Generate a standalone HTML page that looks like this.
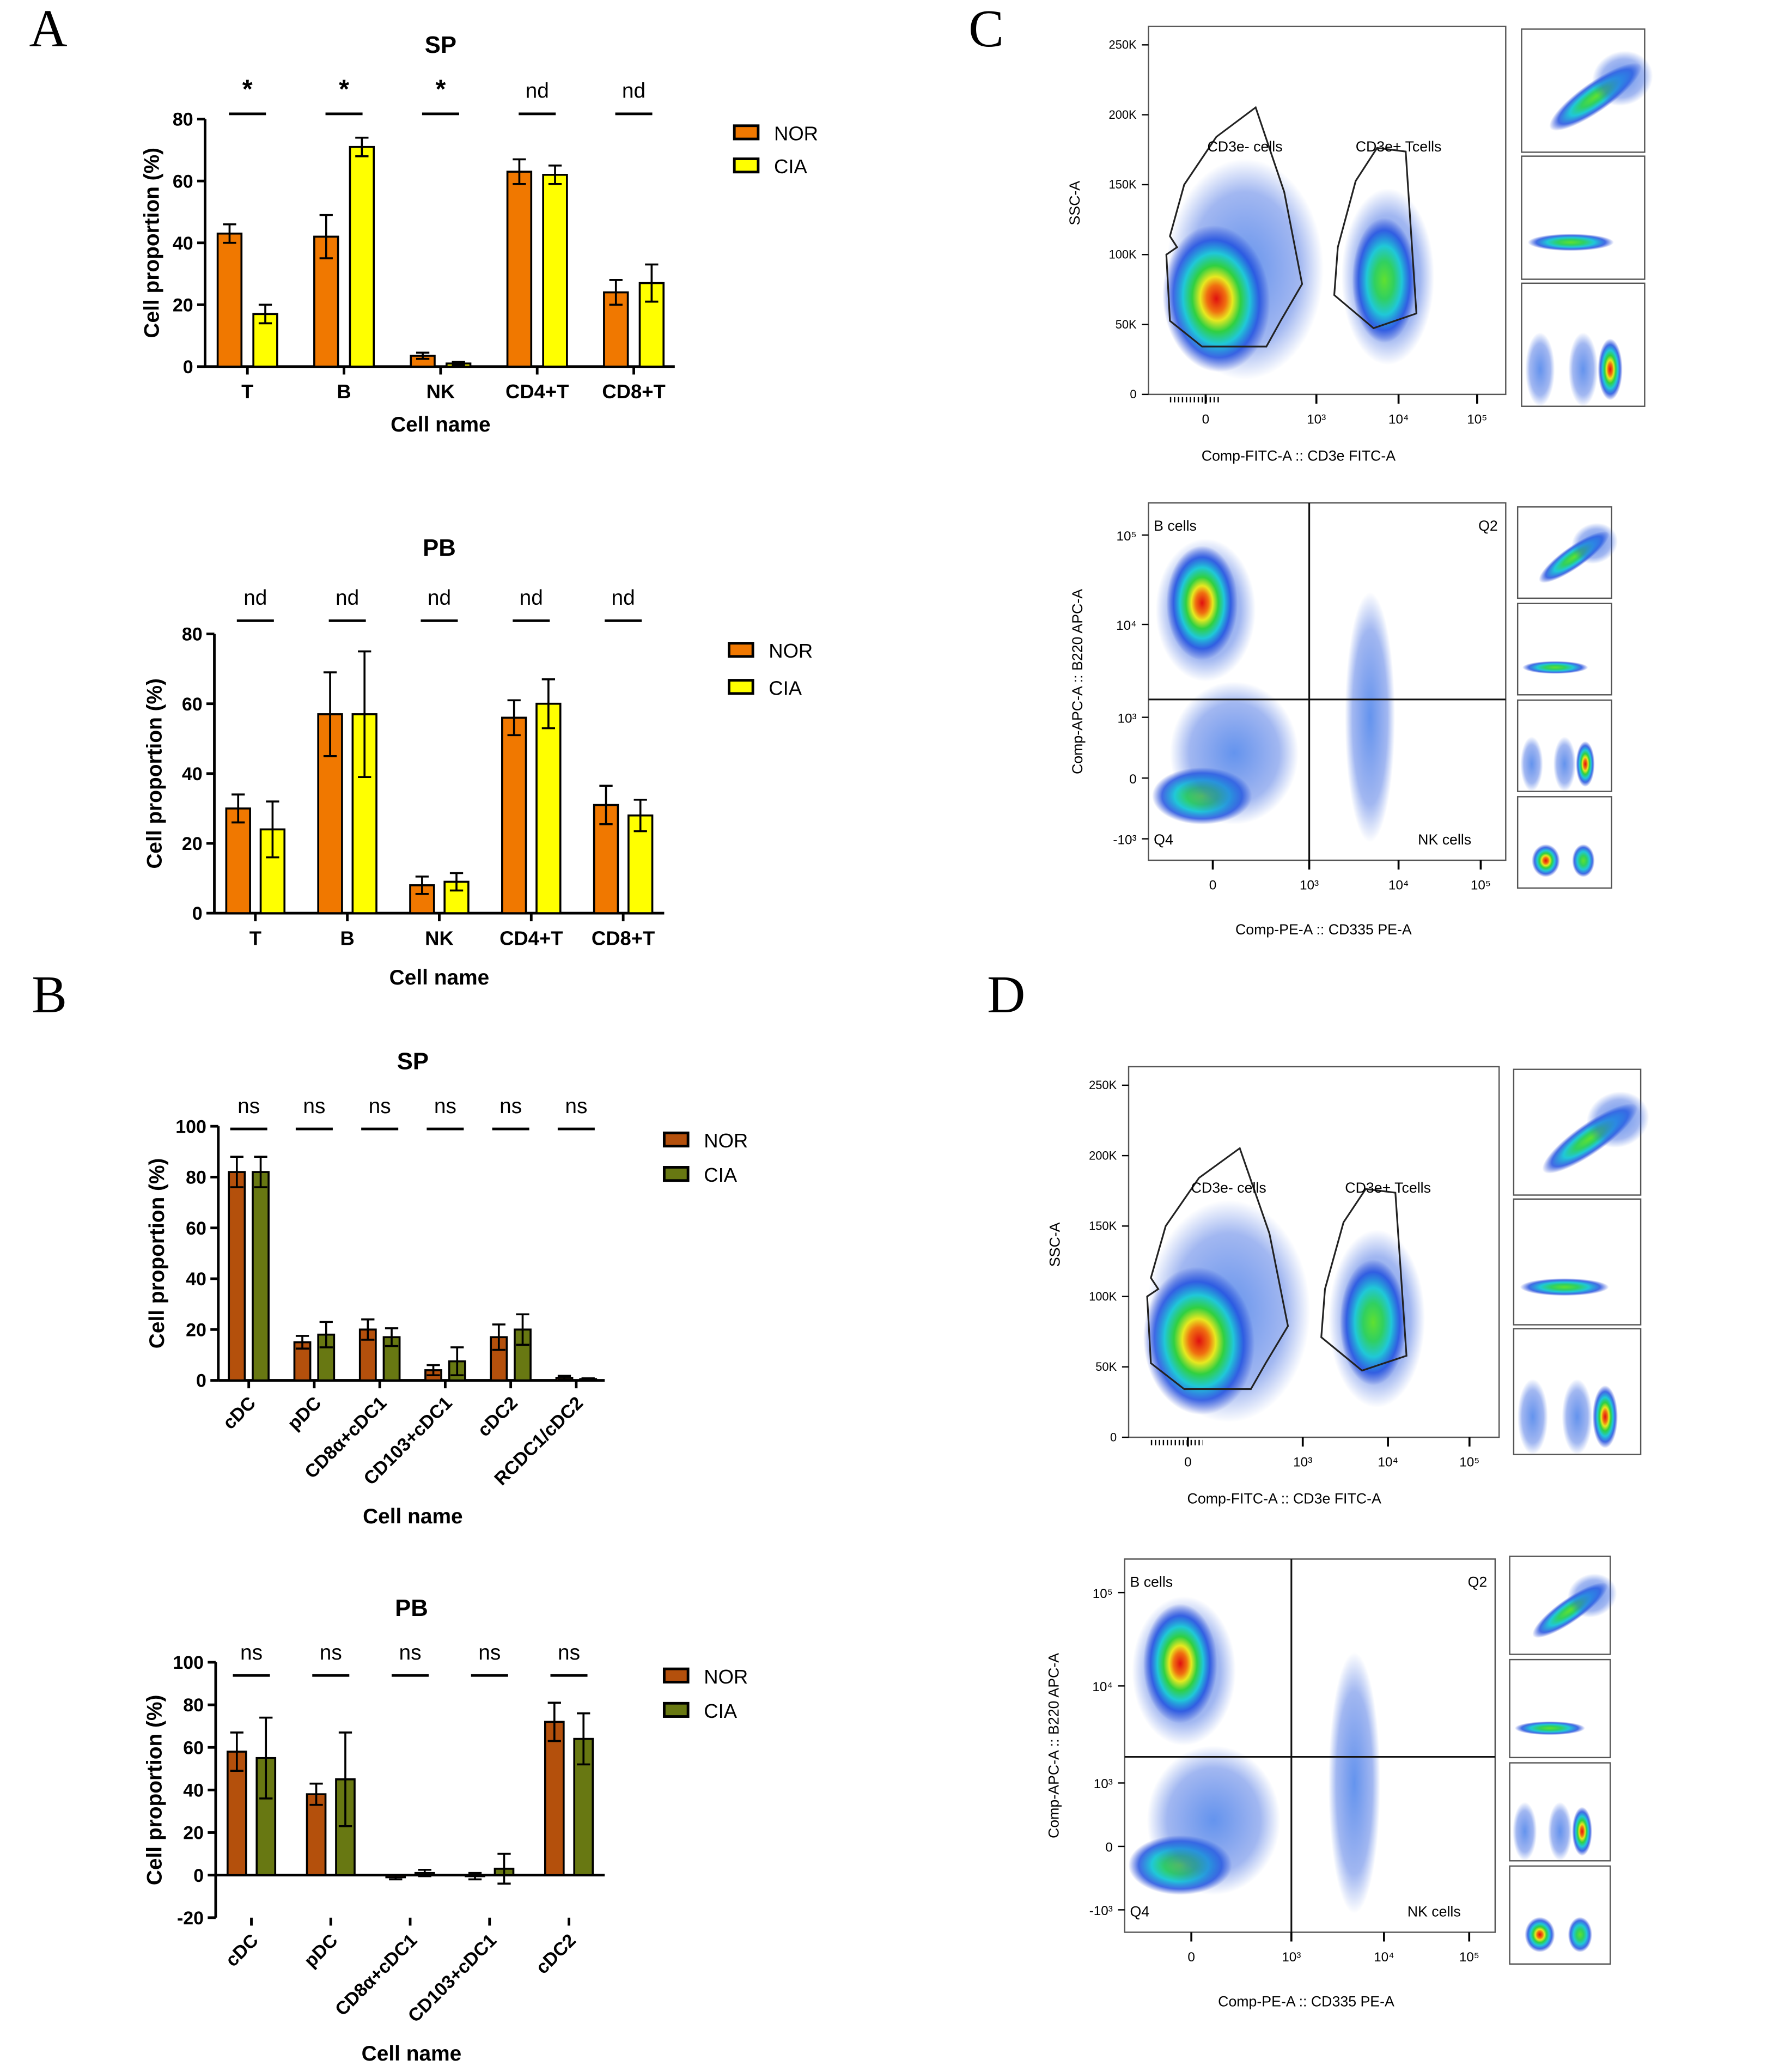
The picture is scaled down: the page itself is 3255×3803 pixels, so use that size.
<!DOCTYPE html>
<html><head><meta charset="utf-8"><style>html,body{margin:0;padding:0;background:#fff}svg{display:block}</style></head>
<body>
<svg id="fig" xmlns="http://www.w3.org/2000/svg" width="3255" height="3803" viewBox="0 0 1340 1565.6" preserveAspectRatio="none" font-family="Liberation Sans, Arial, sans-serif">
<defs>
<radialGradient id="heat"><stop offset="0" stop-color="#e01010"/><stop offset="0.18" stop-color="#f07010"/><stop offset="0.3" stop-color="#e8e820"/><stop offset="0.45" stop-color="#30d040"/><stop offset="0.62" stop-color="#20c8d8"/><stop offset="0.8" stop-color="#2050e0" stop-opacity="0.85"/><stop offset="1" stop-color="#2040d0" stop-opacity="0"/></radialGradient>
<radialGradient id="warm"><stop offset="0" stop-color="#60e030"/><stop offset="0.3" stop-color="#30d060"/><stop offset="0.55" stop-color="#20c8d8"/><stop offset="0.8" stop-color="#2050e0" stop-opacity="0.85"/><stop offset="1" stop-color="#2040d0" stop-opacity="0"/></radialGradient>
<radialGradient id="cool"><stop offset="0" stop-color="#3070e8" stop-opacity="0.75"/><stop offset="0.7" stop-color="#3060e0" stop-opacity="0.45"/><stop offset="1" stop-color="#3060e0" stop-opacity="0"/></radialGradient>
</defs>
<text x="22" y="35" font-family="Liberation Serif, serif" font-size="40">A</text>
<text x="24" y="765" font-family="Liberation Serif, serif" font-size="40">B</text>
<text x="732" y="35" font-family="Liberation Serif, serif" font-size="40">C</text>
<text x="746" y="765" font-family="Liberation Serif, serif" font-size="40">D</text>
<g id="charts"></g>
<g id="flows"></g>
</svg>
<script>
// A SP
const aSpCats = ["T","B","NK","CD4+T","CD8+T"];
const aSpNor = [43,42,3.5,63,24];
const aSpNorErr = [3,7,1,4,4];
const aSpCia = [17,71,1,62,27];
const aSpCiaErr = [3,3,0.5,3,6];
const aSpSig = ["*","*","*","nd","nd"];
const aSpTicks = [0,20,40,60,80];
// A PB
const aPbCats = ["T","B","NK","CD4+T","CD8+T"];
const aPbNor = [30,57,8,56,31];
const aPbNorErr = [4,12,2.5,5,5.5];
const aPbCia = [24,57,9,60,28];
const aPbCiaErr = [8,18,2.5,7,4.5];
const aPbSig = ["nd","nd","nd","nd","nd"];
const aPbTicks = [0,20,40,60,80];
// B SP
const bSpCats = ["cDC","pDC","CD8α+cDC1","CD103+cDC1","cDC2","RCDC1/cDC2"];
const bSpNor = [82,15,20,4,17,1];
const bSpNorErr = [6,2.5,4,2,5,0.8];
const bSpCia = [82,18,17,7.5,20,0.5];
const bSpCiaErr = [6,5,3.5,5.5,6,0.3];
const bSpSig = ["ns","ns","ns","ns","ns","ns"];
const bSpTicks = [0,20,40,60,80,100];
// B PB
const bPbCats = ["cDC","pDC","CD8α+cDC1","CD103+cDC1","cDC2"];
const bPbNor = [58,38,-1,-0.5,72];
const bPbNorErr = [9,5,1,1.5,9];
const bPbCia = [55,45,1,3,64];
const bPbCiaErr = [19,22,1.5,7,12];
const bPbSig = ["ns","ns","ns","ns","ns"];
const bPbTicks = [-20,0,20,40,60,80,100];

const NS="http://www.w3.org/2000/svg";
function mk(tag,attrs,parent,txt){const e=document.createElementNS(NS,tag);for(const k in attrs)e.setAttribute(k,attrs[k]);if(txt!==undefined)e.textContent=txt;parent.appendChild(e);return e;}

function chart(c){
  const g=mk('g',{},document.getElementById('charts'));
  
  
  const ymin=c.ticks[0],ymax=c.ticks[c.ticks.length-1];
  const y=v=>c.yBot+(v-ymin)/(ymax-ymin)*(c.yTop-c.yBot);
  const x=i=>c.x0+c.first+i*c.step;
  const ya=mk('line',{x1:c.x0,x2:c.x0,y1:c.yTop,y2:c.yBot,stroke:'#000','stroke-width':2},g);
  
  c.ticks.forEach(t=>{mk('line',{x1:c.x0-6,x2:c.x0,y1:y(t),y2:y(t),stroke:'#000','stroke-width':2},g);
    const tl=mk('text',{x:c.x0-9,y:y(t)+5,'text-anchor':'end','font-size':14,'font-weight':'bold'},g,t);
    });
  const base=y(0);
  const xa=mk('line',{x1:c.x0,x2:c.x1,y1:base,y2:base,stroke:'#000','stroke-width':2},g);
  
  const tickY=c.yBot;
  c.cats.forEach((cat,i)=>{
    mk('line',{x1:x(i),x2:x(i),y1:tickY,y2:tickY+6,stroke:'#000','stroke-width':2},g);
    let t;
    if(c.rot){t=mk('text',{x:x(i)+6,y:tickY+18,'text-anchor':'end','font-size':14,'font-weight':'bold',transform:`rotate(-45 ${x(i)+6} ${tickY+18})`},g,cat);}
    else t=mk('text',{x:x(i),y:tickY+24,'text-anchor':'middle','font-size':15,'font-weight':'bold'},g,cat);
    
    [[c.nor[i],c.norErr[i],-c.off,c.cN,'bar-nor'],[c.cia[i],c.ciaErr[i],c.off,c.cC,'bar-cia']].forEach(([v,e,o,col,nm])=>{
      const bx=x(i)+o-c.bw/2;const top=Math.min(y(v),base),h=Math.abs(y(v)-base);
      const r=mk('rect',{x:bx,y:top,width:c.bw,height:Math.max(h,0.5),fill:col,stroke:'#000','stroke-width':1.5},g);
      
      const cx=x(i)+o;
      mk('line',{x1:cx,x2:cx,y1:y(v-e),y2:y(v+e),stroke:'#000','stroke-width':1.5},g);
      mk('line',{x1:cx-5,x2:cx+5,y1:y(v+e),y2:y(v+e),stroke:'#000','stroke-width':1.5},g);
      mk('line',{x1:cx-5,x2:cx+5,y1:y(v-e),y2:y(v-e),stroke:'#000','stroke-width':1.5},g);
    });
    const s=mk('text',{x:x(i),y:c.sigY,'text-anchor':'middle','font-size':c.sig[i]=='*'?20:16,'font-weight':c.sig[i]=='*'?'bold':'normal'},g,c.sig[i]);
    
    mk('line',{x1:x(i)-14,x2:x(i)+14,y1:c.sigY+12,y2:c.sigY+12,stroke:'#000','stroke-width':2},g);
  });
  const tt=mk('text',{x:c.tx,y:c.ty,'text-anchor':'middle','font-size':18,'font-weight':'bold'},g,c.title);
  
  const yl=mk('text',{x:0,y:0,'text-anchor':'middle','font-size':16,'font-weight':'bold',transform:`translate(${c.ylx},${(c.yTop+c.yBot)/2}) rotate(-90)`},g,'Cell proportion (%)');
  
  const xl=mk('text',{x:c.tx,y:c.xly,'text-anchor':'middle','font-size':16,'font-weight':'bold'},g,'Cell name');
  
  [['NOR',c.cN,c.ly1],['CIA',c.cC,c.ly2]].forEach(([n,col,ly])=>{
    const le=mk('g',{},g);
    mk('rect',{x:c.lx,y:ly-6,width:18,height:10,fill:col,stroke:'#000','stroke-width':2},le);
    mk('text',{x:c.lx+30,y:ly+5,'font-size':15},le,n);
  });
}
const OR='#f07800',YE='#ffff00',BR='#b4500c',OL='#687812';
chart({name:'chart-a-sp',cats:aSpCats,nor:aSpNor,norErr:aSpNorErr,cia:aSpCia,ciaErr:aSpCiaErr,sig:aSpSig,ticks:aSpTicks,
 x0:155,x1:510,first:32,step:73,yBot:277,yTop:90,bw:18,off:13.5,cN:OR,cC:YE,sigY:74,title:'SP',tx:333,ty:40,ylx:120,xly:326,lx:555,ly1:101,ly2:126});
chart({name:'chart-a-pb',cats:aPbCats,nor:aPbNor,norErr:aPbNorErr,cia:aPbCia,ciaErr:aPbCiaErr,sig:aPbSig,ticks:aPbTicks,
 x0:162,x1:502,first:31,step:69.5,yBot:690,yTop:479,bw:18,off:13,cN:OR,cC:YE,sigY:457,title:'PB',tx:332,ty:420,ylx:122,xly:744,lx:551,ly1:492,ly2:520});
chart({name:'chart-b-sp',cats:bSpCats,nor:bSpNor,norErr:bSpNorErr,cia:bSpCia,ciaErr:bSpCiaErr,sig:bSpSig,ticks:bSpTicks,
 x0:165,x1:457,first:23,step:49.5,yBot:1043,yTop:851,bw:12,off:9,cN:BR,cC:OL,sigY:841,title:'SP',tx:312,ty:808,ylx:124,xly:1151,lx:502,ly1:862,ly2:888,rot:true});
chart({name:'chart-b-pb',cats:bPbCats,nor:bPbNor,norErr:bPbNorErr,cia:bPbCia,ciaErr:bPbCiaErr,sig:bPbSig,ticks:bPbTicks,
 x0:163,x1:457,first:27,step:60,yBot:1449,yTop:1256,bw:14,off:11,cN:BR,cC:OL,sigY:1254,title:'PB',tx:311,ty:1221,ylx:122,xly:1557,lx:502,ly1:1267,ly2:1293,rot:true});

const F=document.getElementById('flows');
function blob(p,cx,cy,rx,ry,grad,rot){mk('ellipse',{cx,cy,rx,ry,fill:`url(#${grad})`,transform:`rotate(${rot||0} ${cx} ${cy})`},p);}
function box(p,x,y,w,h,name){const r=mk('rect',{x,y,width:w,height:h,fill:'#fff',stroke:'#555','stroke-width':1},p);}
function mini(p,x,y,w,h,type){box(p,x,y,w,h,'gating-thumbnail');
  if(type==0){blob(p,x+w*0.6,y+h*0.55,w*0.45,h*0.12,'warm',-35);blob(p,x+w*0.82,y+h*0.4,w*0.25,h*0.22,'cool',-20);}
  else if(type==1){blob(p,x+w*0.4,y+h*0.7,w*0.35,h*0.07,'warm',0);}
  else if(type==2){blob(p,x+w*0.15,y+h*0.7,w*0.12,h*0.3,'cool',0);blob(p,x+w*0.5,y+h*0.7,w*0.12,h*0.3,'cool',0);blob(p,x+w*0.72,y+h*0.7,w*0.1,h*0.25,'heat',0);}
  else {blob(p,x+w*0.3,y+h*0.7,w*0.15,h*0.18,'heat',0);blob(p,x+w*0.7,y+h*0.7,w*0.12,h*0.18,'warm',0);}
}
function flowTop(x,y,w,h,minX,minY,mw,mh,name){
  const g=mk('g',{},F);
  box(g,x,y,w,h,'scatter-plot');
  blob(g,x+w*0.27,y+h*0.66,w*0.22,h*0.3,'cool',0);
  blob(g,x+w*0.67,y+h*0.68,w*0.13,h*0.24,'cool',0);
  blob(g,x+w*0.19,y+h*0.74,w*0.15,h*0.2,'heat',-5);
  blob(g,x+w*0.66,y+h*0.69,w*0.09,h*0.17,'warm',0);
  const px=(a,b)=>`${x+a*w},${y+b*h}`;
  mk('polygon',{points:[px(.05,.62),px(.08,.6),px(.06,.57),px(.1,.43),px(.19,.3),px(.3,.22),px(.38,.45),px(.43,.7),px(.37,.8),px(.33,.87),px(.15,.87),px(.06,.8)].join(' '),fill:'none',stroke:'#222','stroke-width':1.3},g);
  mk('polygon',{points:[px(.53,.6),px(.58,.42),px(.64,.33),px(.72,.34),px(.75,.78),px(.63,.82),px(.52,.73)].join(' '),fill:'none',stroke:'#222','stroke-width':1.3},g);
  mk('text',{x:x+w*0.27,y:y+h*0.34,'text-anchor':'middle','font-size':11},g,'CD3e- cells');
  mk('text',{x:x+w*0.7,y:y+h*0.34,'text-anchor':'middle','font-size':11},g,'CD3e+ Tcells');
  ['250K','200K','150K','100K','50K','0'].forEach((t,i)=>{const yy=y+h*0.05+i*h*0.19;mk('line',{x1:x-5,x2:x,y1:yy,y2:yy,stroke:'#000'},g);mk('text',{x:x-9,y:yy+3,'text-anchor':'end','font-size':9},g,t);});
  [['0',.16],['10³',.47],['10⁴',.7],['10⁵',.92]].forEach(([t,f])=>{mk('line',{x1:x+f*w,x2:x+f*w,y1:y+h,y2:y+h+7,stroke:'#000','stroke-width':1.5},g);mk('text',{x:x+f*w,y:y+h+22,'text-anchor':'middle','font-size':10},g,t);});
  mk('line',{x1:x+w*0.06,x2:x+w*0.2,y1:y+h+4,y2:y+h+4,stroke:'#000','stroke-width':4,'stroke-dasharray':'1 2'},g);
  mk('text',{x:0,y:0,'text-anchor':'middle','font-size':11,transform:`translate(${x-52},${y+h*0.48}) rotate(-90)`},g,'SSC-A');
  mk('text',{x:x+w*0.42,y:y+h+50,'text-anchor':'middle','font-size':11},g,'Comp-FITC-A :: CD3e FITC-A');
  for(let i=0;i<3;i++) mini(g,minX,minY+i*(mh+3),mw,mh,i);
}
function flowBot(x,y,w,h,qx,qy,minX,minY,mw,mh,name){
  const g=mk('g',{},F);
  box(g,x,y,w,h,'scatter-plot');
  blob(g,x+w*0.16,y+h*0.3,w*0.14,h*0.2,'cool',0);
  blob(g,x+w*0.15,y+h*0.28,w*0.1,h*0.16,'heat',0);
  blob(g,x+w*0.15,y+h*0.82,w*0.14,h*0.08,'warm',0);
  blob(g,x+w*0.62,y+h*0.6,w*0.07,h*0.35,'cool',0);
  blob(g,x+w*0.24,y+h*0.7,w*0.18,h*0.2,'cool',0);
  mk('line',{x1:x+qx*w,x2:x+qx*w,y1:y,y2:y+h,stroke:'#111','stroke-width':1.3},g);
  mk('line',{x1:x,x2:x+w,y1:y+qy*h,y2:y+qy*h,stroke:'#111','stroke-width':1.3},g);
  mk('text',{x:x+4,y:y+21,'font-size':11},g,'B cells');
  mk('text',{x:x+w-6,y:y+21,'text-anchor':'end','font-size':11},g,'Q2');
  mk('text',{x:x+4,y:y+h-12,'font-size':11},g,'Q4');
  mk('text',{x:x+w-26,y:y+h-12,'text-anchor':'end','font-size':11},g,'NK cells');
  [['10⁵',.09],['10⁴',.34],['10³',.6],['0',.77],['-10³',.94]].forEach(([t,f])=>{mk('line',{x1:x-5,x2:x,y1:y+f*h,y2:y+f*h,stroke:'#000'},g);mk('text',{x:x-9,y:y+f*h+4,'text-anchor':'end','font-size':10},g,t);});
  [['0',.18],['10³',.45],['10⁴',.7],['10⁵',.93]].forEach(([t,f])=>{mk('line',{x1:x+f*w,x2:x+f*w,y1:y+h,y2:y+h+7,stroke:'#000','stroke-width':1.5},g);mk('text',{x:x+f*w,y:y+h+22,'text-anchor':'middle','font-size':10},g,t);});
  mk('text',{x:0,y:0,'text-anchor':'middle','font-size':11,transform:`translate(${x-50},${y+h*0.5}) rotate(-90)`},g,'Comp-APC-A :: B220 APC-A');
  mk('text',{x:x+w*0.49,y:y+h+56,'text-anchor':'middle','font-size':11},g,'Comp-PE-A :: CD335 PE-A');
  for(let i=0;i<4;i++) mini(g,minX,minY+i*(mh+4),mw,mh,i);
}
flowTop(868,20,270,278,1150,22,93,93,'flow-c-cd3');
flowBot(868,380,270,270,0.45,0.55,1147,383,71,69,'flow-c-b220');
flowTop(853,806,280,280,1144,808,96,95,'flow-d-cd3');
flowBot(850,1178,280,282,0.45,0.53,1141,1176,76,74,'flow-d-b220');
</script>
</body></html>
